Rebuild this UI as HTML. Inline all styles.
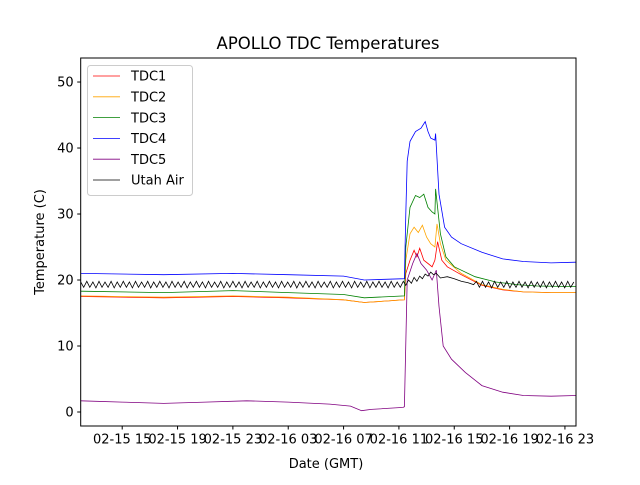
<!DOCTYPE html>
<html><head><meta charset="utf-8"><style>
body{margin:0;background:#fff;}
svg text{font-family:"DejaVu Sans","Liberation Sans",sans-serif;}
</style></head><body>
<svg id="chart" width="640" height="480" xmlns="http://www.w3.org/2000/svg"></svg>
<script>
// x in hours since 02-15 00:00 GMT
const xTickHours=[15,19,23,27,31,35,39,43,47];
const xTickLabels=["02-15 15","02-15 19","02-15 23","02-16 03","02-16 07","02-16 11","02-16 15","02-16 19","02-16 23"];
const yTicks=[0,10,20,30,40,50];
const seriesNames=["TDC1","TDC2","TDC3","TDC4","TDC5","Utah Air"];
const seriesColors=["red","orange","green","blue","purple","black"];
const tdc1T=[12,18,23,27,31,32.5,35.4,35.5,35.8,36.1,36.3,36.5,36.8,37.1,37.4,37.6,37.8,38.1,38.5,39.5,41,42.5,44,46,47.8];
const tdc1V=[17.5,17.3,17.5,17.3,17,16.6,17,21,23,24.5,23.5,24.8,23,22.5,22,23,25.8,23,22,20.8,19.2,18.5,18.2,18.1,18.1];
const tdc2T=[12,18,23,27,31,32.5,35.4,35.5,35.8,36.1,36.4,36.7,37,37.3,37.6,37.75,38,38.4,39.5,41,42.5,44,46,47.8];
const tdc2V=[17.6,17.4,17.6,17.4,17,16.6,17,23,27,28,27.2,28.3,26.5,25.5,25,28.5,25.5,23,21,19.3,18.6,18.2,18.1,18.1];
const tdc3T=[12,18,23,27,31,32.5,35.4,35.5,35.8,36.2,36.5,36.8,37.1,37.4,37.6,37.65,38,38.4,39,40.5,42,43.5,45,47.8];
const tdc3V=[18.3,18.1,18.4,18.1,17.8,17.3,17.6,25,31,32.8,32.5,33,31,30.3,30,33.8,27,23.5,22,20.5,19.7,19.3,19.1,19];
const tdc4T=[12,18,23,27,31,32.5,35.4,35.5,35.6,35.8,36.2,36.6,36.9,37.1,37.3,37.6,37.65,37.9,38.3,38.8,39.5,41,42.5,44,46,47.8];
const tdc4V=[21,20.8,21,20.8,20.6,20,20.2,30,38,41,42.5,43,44,42.5,41.5,41.2,42.2,33,28,26.5,25.5,24.2,23.2,22.8,22.6,22.7];
const tdc5T=[12,15,18,21,24,27,30,31.5,32.3,33,35.3,35.4,35.6,36,36.3,36.6,37,37.4,37.7,37.9,38.2,38.8,39.8,41,42.5,44,46,47.8];
const tdc5V=[1.7,1.5,1.3,1.5,1.7,1.5,1.2,0.9,0.2,0.4,0.7,0.8,20,22.5,24,22.5,21.5,20,21.5,16,10,8,6,4,3,2.5,2.4,2.5];
const utahPreV=[19.7,18.9,19.8,18.9,19.7,18.8,19.8,18.9,19.7,18.9,19.8,18.8,19.7,18.9,19.8,18.9,19.7,18.8,19.8,18.9,19.7,18.9,19.8,18.8,19.7,18.9,19.8,18.9,19.7,18.8,19.8,18.9,19.7,18.9,19.8,18.8,19.7,18.9,19.8,18.9,19.7,18.8,19.8,18.9,19.7,18.9,19.8,18.8,19.7,18.9,19.8,18.9,19.7,18.8,19.8,18.9,19.7,18.9,19.8,18.8,19.7,18.9,19.8,18.9,19.7,18.8,19.8,18.9,19.7,18.9,19.8,18.8,19.7,18.9,19.8,18.9,19.7,18.8,19.8,18.9,19.7,18.9,19.8,18.8,19.7,18.9,19.8,18.9,19.7,18.8,19.8,18.9,19.7,18.9,19.8,18.8,19.7,18.9,19.8,18.9,19.7,18.8,19.8,18.9,19.7,18.9,19.8];
const utahMidT=[35.5,35.7,35.9,36.1,36.3,36.5,36.7,36.9,37.1,37.3,37.5,37.7,38,38.5,39,39.5,40,40.4];
const utahMidV=[19.2,20,19.5,20.4,19.8,20.6,20.2,20.9,20.6,21.2,20.8,21,20.3,20.5,20.2,19.8,19.6,19.3];
const utahPostV=[19.8,18.9,19.8,18.9,19.7,18.8,19.8,18.9,19.7,18.9,19.8,18.8,19.7,18.9,19.8,18.9,19.7,18.8,19.8,18.9,19.7,18.9,19.8,18.8,19.7,18.9,19.8,18.9,19.7,18.8,19.8,18.9,19.7];

const L=80.7,R=576,T=58,B=426;
const xMin=12,xMax=47.8,yMin=-2.12,yMax=53.64;
const X=h=>L+(h-xMin)/(xMax-xMin)*(R-L);
const Y=v=>B-(v-yMin)/(yMax-yMin)*(B-T);
const svg=document.getElementById('chart');
const NS="http://www.w3.org/2000/svg";
function mk(tag,attrs,parent){const e=document.createElementNS(NS,tag);for(const k in attrs)e.setAttribute(k,attrs[k]);(parent||svg).appendChild(e);return e;}

const utahT=[],utahV=[];
utahPreV.forEach((v,i)=>{utahT.push(12+i*0.22);utahV.push(v);});
utahMidT.forEach((t,i)=>{utahT.push(t);utahV.push(utahMidV[i]);});
utahPostV.forEach((v,i)=>{utahT.push(40.6+i*0.22);utahV.push(v);});

const allT=[tdc1T,tdc2T,tdc3T,tdc4T,tdc5T,utahT];
const allV=[tdc1V,tdc2V,tdc3V,tdc4V,tdc5V,utahV];

const clip=mk('clipPath',{id:'pc'});mk('rect',{x:L,y:T,width:R-L,height:B-T},clip);
const lines=mk('g',{'clip-path':'url(#pc)'});


allT.forEach((ts,s)=>{
  const d=ts.map((t,i)=>(i?'L':'M')+X(t).toFixed(1)+','+Y(allV[s][i]).toFixed(1)).join('');
  const p=mk('path',{d:d,fill:'none',stroke:seriesColors[s],'stroke-width':0.8},lines);
  
  
});
const frame=mk('rect',{x:L,y:T,width:R-L,height:B-T,fill:'none',stroke:'#000','stroke-width':1});



xTickHours.forEach((h,i)=>{
  mk('line',{x1:X(h),x2:X(h),y1:B,y2:B+3.5,stroke:'#000'});
  const t=mk('text',{x:X(h),y:B+17.5,'font-size':13,'text-anchor':'middle'});
  t.textContent=xTickLabels[i];
  
  
});
yTicks.forEach(v=>{
  mk('line',{x1:L-3.5,x2:L,y1:Y(v),y2:Y(v),stroke:'#000'});
  const t=mk('text',{x:L-7,y:Y(v)+4.5,'font-size':13,'text-anchor':'end'});
  t.textContent=v;
  
  
});
const title=mk('text',{x:328,y:49,'font-size':16.5,'text-anchor':'middle'});
title.textContent='APOLLO TDC Temperatures';


const xl=mk('text',{x:326,y:468,'font-size':13,'text-anchor':'middle'});
xl.textContent='Date (GMT)';


const yl=mk('text',{x:0,y:0,'font-size':13,'text-anchor':'middle',transform:'translate(44,242) rotate(-90)'});
yl.textContent='Temperature (C)';



const lg=mk('g',{});


mk('rect',{x:87.5,y:65.5,width:105,height:130,rx:3,fill:'#fff','fill-opacity':0.8,stroke:'#ccc'},lg);
seriesNames.forEach((n,i)=>{
  const y=76+i*20.8;
  mk('line',{x1:93,x2:120,y1:y,y2:y,stroke:seriesColors[i],'stroke-width':0.8},lg);
  const t=mk('text',{x:131,y:y+4.7,'font-size':13},lg);
  t.textContent=n;
  
  
});
</script>
</body></html>
